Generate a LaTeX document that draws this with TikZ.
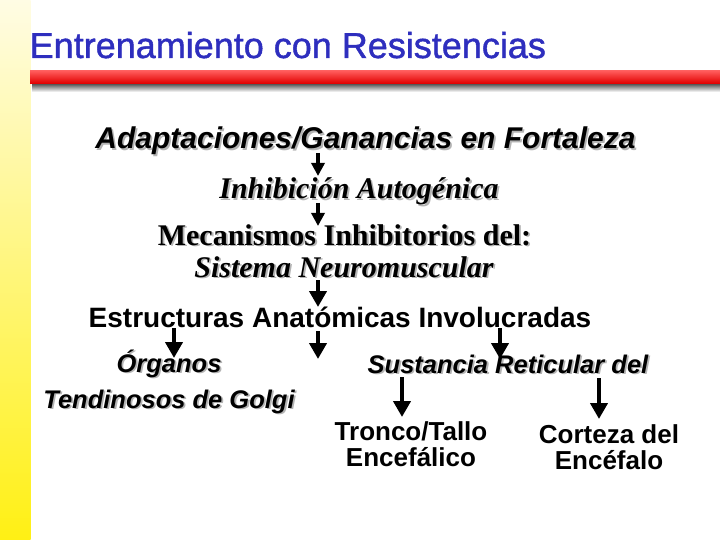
\documentclass[tikz,border=0pt]{standalone}
\usepackage{fontspec}
\setmainfont{Liberation Serif}
\setsansfont{Liberation Sans}
\newfontfamily\titlefont[FakeBold=1.2]{Liberation Sans}
\usetikzlibrary{arrows.meta}
\definecolor{titleblue}{RGB}{46,46,190}
\definecolor{shadowgrey}{RGB}{180,180,180}
\definecolor{paleyellow}{RGB}{255,252,228}
\definecolor{strongyellow}{RGB}{255,240,20}
\tikzset{
  txt/.style={inner sep=0pt, anchor=base},
  sansbi/.style={font=\sffamily\bfseries\itshape},
  sansb/.style={font=\sffamily\bfseries},
  serifbi/.style={font=\rmfamily\bfseries\itshape},
  serifb/.style={font=\rmfamily\bfseries},
  smallarrow/.style={line width=4pt, -{Triangle[width=13pt,length=13pt]}},
  bigarrow/.style={line width=4.5pt, -{Triangle[width=17pt,length=16pt]}},
}
% shadowed text: name, x, y, style, size, text
\newcommand{\shnode}[6]{%
  \node[txt,#4,text=shadowgrey] at (#2+1.8,#3+1.8) {\fontsize{#5}{#5}\selectfont #6};
  \node[txt,#4] (#1) at (#2,#3) {\fontsize{#5}{#5}\selectfont #6};}
\begin{document}
\begin{tikzpicture}[x=1pt,y=-1pt]
\useasboundingbox (0,0) rectangle (720,540);
\fill[white] (0,0) rectangle (720,540);
% left strip
\shade[top color=paleyellow, bottom color=strongyellow] (0,0) rectangle (30.5,540);
% bar shadow and red bar
\shade[top color=black!90, bottom color=white] (32,81) rectangle (720,92);
\shade[top color={rgb,255:red,255;green,90;blue,90}, middle color=red, bottom color={rgb,255:red,225;green,0;blue,0}] (30,71) rectangle (720,83.5);
% title
\node[txt, anchor=base west, text=titleblue, font=\titlefont\fontsize{36}{36}\selectfont] (title) at (29.5,58) {Entrenamiento con Resistencias};
% texts
\shnode{adapt}{365.5}{149}{sansbi}{30}{Adaptaciones/Ganancias en Fortaleza}
\shnode{inhib}{359}{199}{serifbi}{30}{Inhibición Autogénica}
\shnode{mecan}{344.5}{245}{serifb}{30}{Mecanismos Inhibitorios del:}
\shnode{sist}{344}{277}{serifbi}{30}{Sistema Neuromuscular}
\node[txt,font=\sffamily\bfseries\fontsize{28}{28}\selectfont] (estr) at (340,327) {Estructuras Anatómicas Involucradas};
\shnode{org}{169}{372}{sansbi}{25.5}{Órganos}
\shnode{tend}{169}{408}{sansbi}{25.5}{Tendinosos de Golgi}
\shnode{sust}{508}{373}{sansbi}{25.5}{Sustancia Reticular del}
\node[txt,font=\sffamily\bfseries\fontsize{26}{26}\selectfont] (tronco) at (411,440) {Tronco/Tallo};
\node[txt,font=\sffamily\bfseries\fontsize{26}{26}\selectfont] (encef) at (411,466) {Encefálico};
\node[txt,font=\sffamily\bfseries\fontsize{26}{26}\selectfont] (corteza) at (609,443) {Corteza del};
\node[txt,font=\sffamily\bfseries\fontsize{26}{26}\selectfont] (encefalo) at (609,469) {Encéfalo};
% arrow end points
\coordinate (a1s) at (318,153); \coordinate (a1e) at (318,176);
\coordinate (a2s) at (318,203); \coordinate (a2e) at (318,226);
\coordinate (a3s) at (318,280); \coordinate (a3e) at (318,307);
\coordinate (a4s) at (318,331); \coordinate (a4e) at (318,359);
\coordinate (a5s) at (174,328); \coordinate (a5e) at (174,358);
\coordinate (a6s) at (500,328); \coordinate (a6e) at (500,359);
\coordinate (a7s) at (402,377); \coordinate (a7e) at (402,417);
\coordinate (a8s) at (599,378); \coordinate (a8e) at (599,419);
\draw[smallarrow] (a1s) -- (a1e);
\draw[smallarrow] (a2s) -- (a2e);
\draw[bigarrow] (a3s) -- (a3e);
\draw[bigarrow] (a4s) -- (a4e);
\draw[bigarrow] (a5s) -- (a5e);
\draw[bigarrow] (a6s) -- (a6e);
\draw[bigarrow] (a7s) -- (a7e);
\draw[bigarrow] (a8s) -- (a8e);
\end{tikzpicture}
\end{document}
